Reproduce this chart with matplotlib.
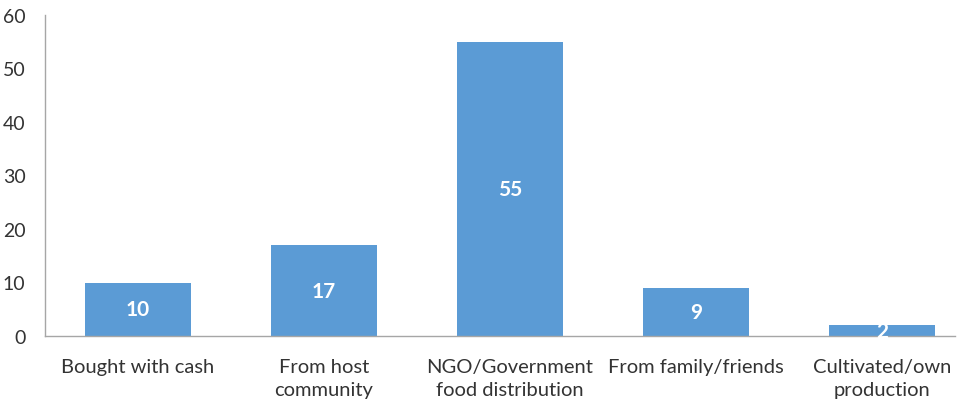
import matplotlib
matplotlib.use("Agg")
import matplotlib.pyplot as plt

categories = ["Bought with cash", "From host\ncommunity", "NGO/Government\nfood distribution",
              "From family/friends", "Cultivated/own\nproduction"]
values = [10, 17, 55, 9, 2]

BAR_COLOUR = "#5B9BD5"
TEXT_COLOUR = "#333333"

plt.rcParams["font.family"] = ["Lato", "DejaVu Sans"]

fig = plt.figure(figsize=(9.64, 4.02), dpi=100)
ax = fig.add_axes([45 / 964, 65 / 402, 919 / 964, 321 / 402])

x = list(range(len(categories)))
bars = ax.bar(x, values, width=0.565, color=BAR_COLOUR)

for rect, v in zip(bars, values):
    ax.text(rect.get_x() + rect.get_width() / 2, v / 2, str(v),
            ha="center", va="center", color="white", fontsize=15, fontweight="bold")

ax.set_ylim(0, 60)
ax.set_yticks(range(0, 61, 10))
ax.set_xlim(-0.5, -0.5 + 919 / 186)
ax.set_xticks(x)
ax.set_xticklabels(categories, fontsize=14.5, color=TEXT_COLOUR, linespacing=1.4)
ax.tick_params(axis="y", labelsize=14, colors=TEXT_COLOUR, length=0, pad=14)
ax.tick_params(axis="x", length=0, pad=16)

for side in ["top", "right"]:
    ax.spines[side].set_visible(False)
for side in ["left", "bottom"]:
    ax.spines[side].set_color("#A6A6A6")
    ax.spines[side].set_linewidth(1)
ax.spines["bottom"].set_bounds(-0.5, -0.5 + 910 / 186)

fig.savefig("out.png", dpi=100)
